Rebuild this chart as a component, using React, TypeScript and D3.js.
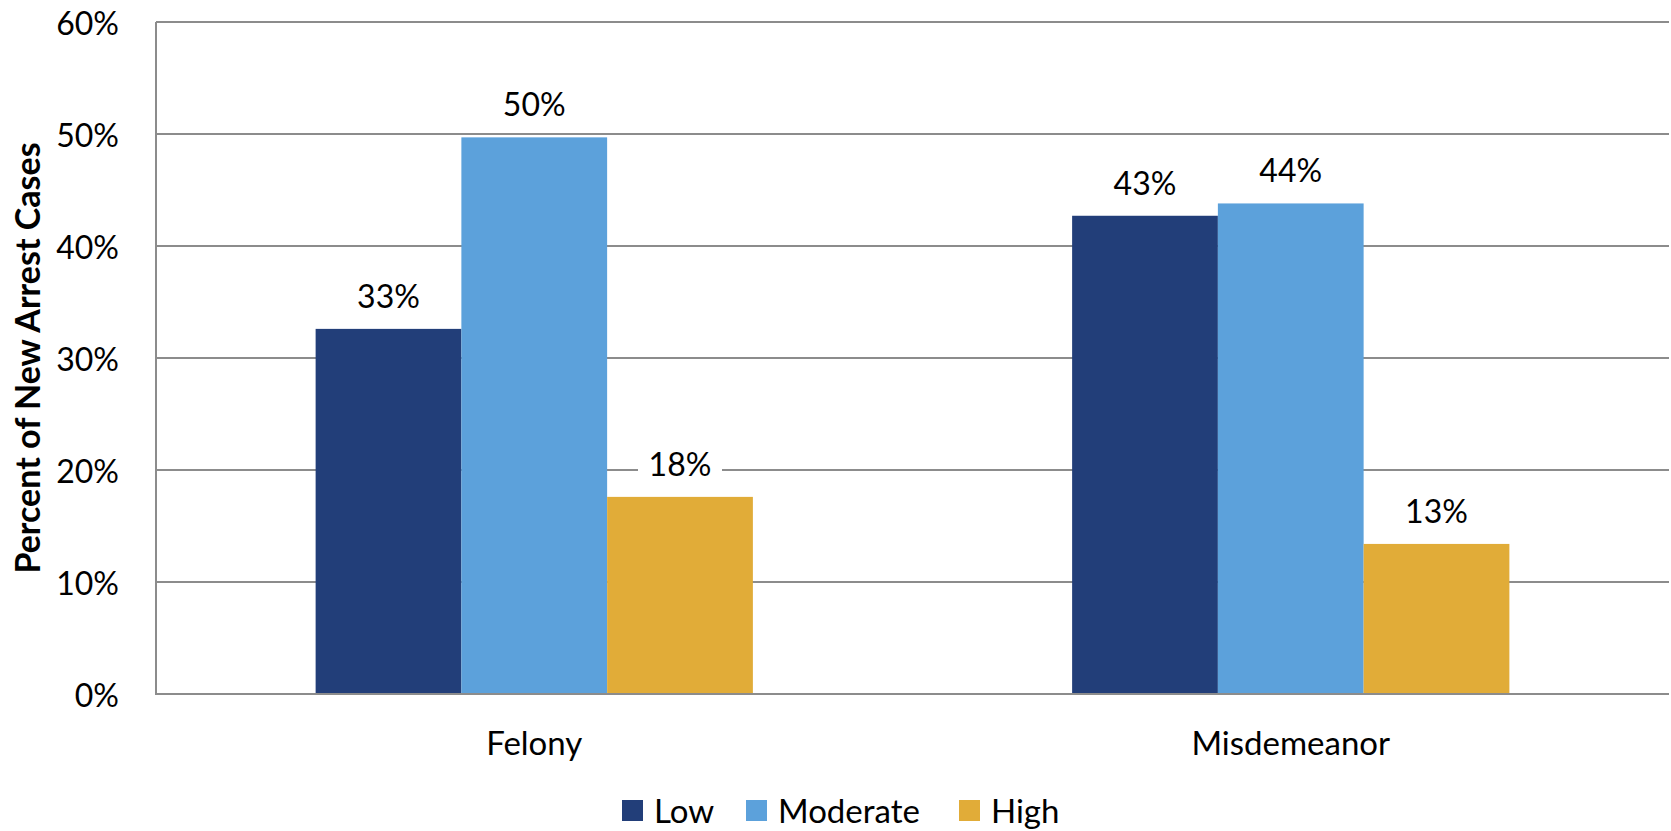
import React, { useEffect } from "react";
import * as d3 from "d3";

// Offense categories along the x axis
const categories = ["Felony", "Misdemeanor"];
// Risk levels (one bar each per category)
const riskLevels = ["Low", "Moderate", "High"];
// Share of new arrest cases per category, in the order of riskLevels
const felonyValues = [0.326, 0.497, 0.176];
const misdemeanorValues = [0.427, 0.438, 0.134];
const yTicks = [0, 0.1, 0.2, 0.3, 0.4, 0.5, 0.6];
const yTitle = "Percent of New Arrest Cases";

const seriesColors = ["#223E79", "#5CA1DB", "#E1AC38"];

const WIDTH = 1671;
const HEIGHT = 831;
const margin = { top: 22, right: 2, bottom: 137, left: 156 };
const FONT = "Lato, 'Open Sans', sans-serif";
const GRID = "#8C8C8C";

const valuesByCategory = [felonyValues, misdemeanorValues];

export default function App() {
  useEffect(() => {
    document.body.style.margin = "0";
  }, []);

  const x0 = d3
    .scaleBand<string>()
    .domain(categories)
    .range([margin.left, WIDTH - margin.right])
    .paddingInner(0.422)
    .paddingOuter(0.211);
  const x1 = d3
    .scaleBand<string>()
    .domain(riskLevels)
    .range([0, x0.bandwidth()])
    .padding(0);
  const y = d3
    .scaleLinear()
    .domain([0, 0.6])
    .range([HEIGHT - margin.bottom, margin.top]);
  const pct = d3.format(".0%");

  const plotLeft = margin.left;
  const plotRight = WIDTH - margin.right;
  const plotBottom = y(0);

  // legend item offsets (swatch left edges)
  const legendStart = 622;
  const legendX = [legendStart, legendStart + 124, legendStart + 337];

  return (
    <svg
      width={WIDTH}
      height={HEIGHT}
      style={{ display: "block", background: "#fff" }}
      fontFamily={FONT}
    >
      {/* horizontal gridlines */}
      {yTicks.map((t) => (
        <line
          key={"g" + t}
          x1={plotLeft}
          x2={plotRight}
          y1={y(t)}
          y2={y(t)}
          stroke={GRID}
          strokeWidth={2}
        />
      ))}
      {/* y tick labels */}
      {yTicks.map((t) => (
        <text
          key={"t" + t}
          x={119}
          y={y(t)}
          textAnchor="end"
          dominantBaseline="central"
          fontSize={32}
          fill="#000"
        >
          {pct(t)}
        </text>
      ))}
      {/* left axis line */}
      <line
        x1={plotLeft}
        x2={plotLeft}
        y1={y(0.6)}
        y2={plotBottom + 1}
        stroke={GRID}
        strokeWidth={2}
      />

      {/* bars */}
      {categories.map((c, ci) => (
        <g key={c} transform={`translate(${x0(c)},0)`}>
          {riskLevels.map((r, ri) => {
            const v = valuesByCategory[ci][ri];
            return (
              <rect
                key={r}
                x={x1(r)}
                y={y(v)}
                width={x1.bandwidth()}
                height={plotBottom - y(v)}
                fill={seriesColors[ri]}
              />
            );
          })}
        </g>
      ))}

      {/* bottom axis line */}
      <line
        x1={plotLeft}
        x2={plotRight}
        y1={plotBottom}
        y2={plotBottom}
        stroke={GRID}
        strokeWidth={2}
      />

      {/* value labels */}
      {categories.map((c, ci) => (
        <g key={"l" + c} transform={`translate(${x0(c)},0)`}>
          {riskLevels.map((r, ri) => {
            const v = valuesByCategory[ci][ri];
            const cx = (x1(r) as number) + x1.bandwidth() / 2;
            const base = y(v) - 21;
            return (
              <g key={r}>
                <rect
                  x={cx - 42}
                  y={base - 30}
                  width={84}
                  height={40}
                  fill="#fff"
                />
                <text
                  x={cx}
                  y={base}
                  textAnchor="middle"
                  fontSize={32}
                  fill="#000"
                >
                  {pct(v)}
                </text>
              </g>
            );
          })}
        </g>
      ))}

      {/* category labels */}
      {categories.map((c) => (
        <text
          key={"c" + c}
          x={(x0(c) as number) + x0.bandwidth() / 2}
          y={755}
          textAnchor="middle"
          fontSize={33}
          fill="#000"
        >
          {c}
        </text>
      ))}

      {/* y axis title */}
      <text
        transform={`translate(40,${(y(0) + y(0.6)) / 2}) rotate(-90)`}
        textAnchor="middle"
        fontSize={34}
        fontWeight="bold"
        fill="#000"
      >
        {yTitle}
      </text>

      {/* legend */}
      {riskLevels.map((r, i) => (
        <g key={"lg" + r} transform={`translate(${legendX[i]},0)`}>
          <rect x={0} y={800} width={21} height={21} fill={seriesColors[i]} />
          <text x={32} y={823} fontSize={33} fill="#000">
            {r}
          </text>
        </g>
      ))}
    </svg>
  );
}
